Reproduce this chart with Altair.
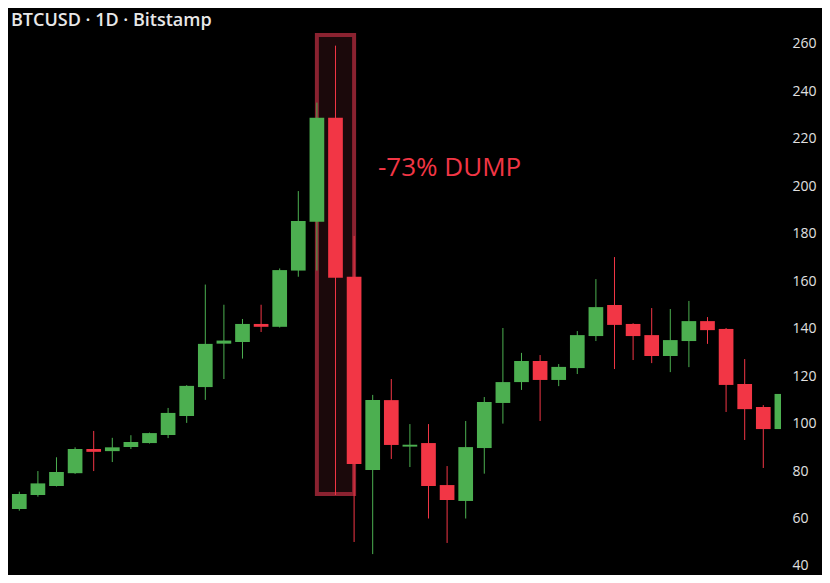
import altair as alt
import pandas as pd

# Daily OHLC (BTCUSD, Bitstamp)
opens  = [68.5, 64.0, 69.9, 73.7, 79.1, 89.3, 88.4, 90.1, 91.8, 95.2,
          103.2, 115.4, 133.7, 134.4, 142.0, 140.8, 164.5, 185.1, 228.9, 161.9,
          80.4, 109.9, 90.3, 91.8, 74.1, 67.4, 89.7, 108.7, 117.5, 126.4,
          118.4, 123.4, 136.9, 150.0, 142.0, 137.3, 128.5, 134.8, 143.2, 139.9,
          116.7, 107.0, 97.7]
highs  = [72.0, 71.3, 80.0, 85.8, 90.0, 96.9, 94.0, 95.1, 96.2, 106.6,
          116.2, 158.6, 150.1, 144.1, 150.1, 165.4, 198.0, 235.3, 259.3, 179.1,
          112.1, 118.8, 99.8, 99.8, 82.1, 101.1, 111.2, 140.3, 129.8, 128.9,
          125.1, 139.0, 160.9, 170.2, 142.3, 148.7, 148.3, 151.7, 144.9, 140.3,
          127.2, 107.8, 113.0]
lows   = [50.2, 63.3, 69.2, 73.5, 78.8, 80.0, 83.8, 89.3, 91.6, 93.9,
          100.3, 110.0, 118.8, 127.4, 138.6, 140.5, 161.9, 164.5, 69.9, 50.1,
          45.0, 85.1, 81.7, 60.0, 49.7, 60.0, 78.9, 100.0, 114.2, 101.1,
          115.8, 120.9, 134.8, 123.0, 126.8, 125.5, 121.7, 123.8, 133.6, 104.9,
          93.1, 81.3, 97.0]
closes = [63.6, 70.3, 74.8, 79.6, 89.3, 88.1, 90.0, 92.2, 96.0, 104.5,
          115.9, 133.6, 135.0, 142.0, 140.8, 164.7, 185.4, 228.9, 161.5, 83.0,
          109.9, 91.0, 91.1, 73.7, 67.8, 90.1, 109.1, 117.5, 126.4, 118.4,
          123.9, 137.3, 149.1, 141.6, 136.9, 128.5, 135.2, 143.2, 139.4, 116.3,
          106.1, 97.7, 112.5]

y_ticks = [40, 60, 80, 100, 120, 140, 160, 180, 200, 220, 240, 260]
title_text = "BTCUSD · 1D · Bitstamp"
note_text = "-73% DUMP"

# annotation box around the crash candle (data units)
box = pd.DataFrame({"x0": [17.0], "x1": [19.0], "y0": [70.3], "y1": [263.8]})
note = pd.DataFrame({"i": [20.285], "v": [204.4], "t": [note_text]})

df = pd.DataFrame({"i": list(range(len(opens))), "open": opens, "high": highs,
                   "low": lows, "close": closes})

GREEN = "#4caf50"
RED = "#f23645"

xs = alt.Scale(domain=[0.3925, 41.952], nice=False, zero=False)
ys = alt.Scale(domain=[36.19, 275.17], nice=False, zero=False)

color = alt.condition("datum.close >= datum.open", alt.value(GREEN), alt.value(RED))

box_layer = alt.Chart(box).mark_rect(fill="#1b090b", stroke="#8a2230", strokeWidth=4, clip=True).encode(
    x=alt.X("x0:Q", scale=xs, axis=None),
    x2="x1:Q",
    y=alt.Y("y0:Q", scale=ys),
    y2="y1:Q",
)

base = alt.Chart(df)

wicks = base.mark_rule(strokeWidth=1, clip=True).encode(
    x=alt.X("i:Q", scale=xs, axis=None),
    y=alt.Y("low:Q", scale=ys, axis=alt.Axis(
        orient="right", values=y_ticks, ticks=False, domain=False, grid=False,
        labelPadding=11, labelAlign="left", labelFontSize=14, labelFont="Open Sans",
        labelColor="#e0e0e0", title=None, labelOverlap=False)),
    y2="high:Q",
    color=color,
)

bodies = base.transform_calculate(
    xa="datum.i - 0.395", xb="datum.i + 0.395"
).mark_rect(clip=True).encode(
    x=alt.X("xa:Q", scale=xs, axis=None),
    x2="xb:Q",
    y=alt.Y("open:Q", scale=ys),
    y2="close:Q",
    color=color,
)

note_layer = alt.Chart(note).mark_text(
    align="left", baseline="alphabetic", fontSize=26, font="Open Sans", color=RED
).encode(
    x=alt.X("i:Q", scale=xs, axis=None),
    y=alt.Y("v:Q", scale=ys),
    text="t:N",
)

title_layer = alt.Chart(pd.DataFrame({"t": [title_text]})).mark_text(
    align="left", baseline="alphabetic", fontSize=18, fontWeight=600,
    font="Open Sans", color="#e8e8e8"
).encode(
    x=alt.value(3), y=alt.value(18), text="t:N"
)

chart = alt.layer(box_layer, wicks, bodies, note_layer, title_layer).properties(
    width=773, height=567,
    autosize=alt.AutoSizeParams(type="none"),
    padding={"left": 0, "top": 0, "right": 41, "bottom": 0},
    background="#000000",
).configure_view(stroke=None)

chart.save("out.html", embed_options={"renderer": "svg", "actions": False})
